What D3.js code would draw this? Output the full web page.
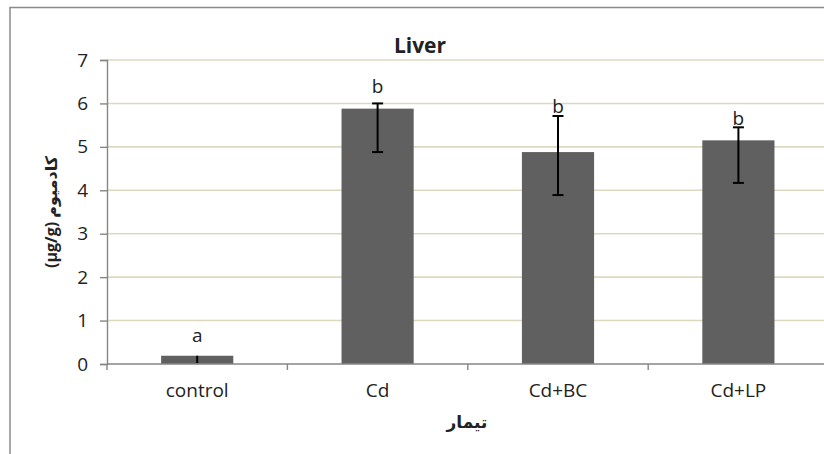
<!DOCTYPE html>
<html>
<head>
<meta charset="utf-8">
<script src="https://cdn.jsdelivr.net/npm/d3@7/dist/d3.min.js"></script>
<style>
  body { margin: 0; background: #fff; }
  text { font-family: "Open Sans", "DejaVu Sans", sans-serif; fill: #222; }
</style>
</head>
<body>
<svg id="chart" width="824" height="454"></svg>
<script>
// values
var categories = ["control", "Cd", "Cd+BC", "Cd+LP"]
var means = [0.19, 5.88, 4.88, 5.15]
var errUp = [0.0, 0.12, 0.83, 0.30]
var errDown = [0.17, 1.0, 0.99, 0.98]
var letters = ["a", "b", "b", "b"]
var letterAt = [0.50, 6.24, 5.78, 5.50]
var yTicks = [0, 1, 2, 3, 4, 5, 6, 7]

var svg = d3.select("#chart")

// outer chart frame (runs off the right and bottom edges)
svg.append("rect")
  .attr("x", 10).attr("y", 7.5)
  .attr("width", 900).attr("height", 600)
  .attr("fill", "none")
  .attr("stroke", "#8a8a8a")
  .attr("stroke-width", 1.5)

var left = 107, plotTop = 60, bottom = 364, step = 180.4

var x = d3.scaleBand()
  .domain(categories)
  .range([left, left + step * categories.length])
  .paddingInner(0.6)
  .paddingOuter(0.3)

var y = d3.scaleLinear().domain([0, 7]).range([bottom, plotTop])

// gridlines
svg.append("g")
  .selectAll("line")
  .data(yTicks.filter(function(d) { return d > 0 }))
  .enter().append("line")
    .attr("x1", left).attr("x2", 824)
    .attr("y1", function(d) { return y(d) })
    .attr("y2", function(d) { return y(d) })
    .attr("stroke", "#ddd8c0")
    .attr("stroke-width", 1.6)

// bars
var rows = categories.map(function(c, i) {
  return { cat: c, v: means[i], up: errUp[i], down: errDown[i], letter: letters[i], at: letterAt[i] }
})

svg.append("g")
  .selectAll("rect")
  .data(rows)
  .enter().append("rect")
    .attr("x", function(d) { return x(d.cat) })
    .attr("width", x.bandwidth())
    .attr("y", function(d) { return y(d.v) })
    .attr("height", function(d) { return y(0) - y(d.v) })
    .attr("fill", "#606060")

// error bars
var eb = svg.append("g").attr("stroke", "#000").attr("stroke-width", 2)
rows.forEach(function(d) {
  var cx = x(d.cat) + x.bandwidth() / 2
  eb.append("line")
    .attr("x1", cx).attr("x2", cx)
    .attr("y1", y(d.v + d.up)).attr("y2", y(d.v - d.down))
  // caps only on the bars that show them
  if (d.up > 0.05) {
    eb.append("line").attr("x1", cx - 5.5).attr("x2", cx + 5.5)
      .attr("y1", y(d.v + d.up)).attr("y2", y(d.v + d.up))
    eb.append("line").attr("x1", cx - 5.5).attr("x2", cx + 5.5)
      .attr("y1", y(d.v - d.down)).attr("y2", y(d.v - d.down))
  }
})

// significance letters
svg.append("g")
  .selectAll("text")
  .data(rows)
  .enter().append("text")
    .attr("x", function(d) { return x(d.cat) + x.bandwidth() / 2 })
    .attr("y", function(d) { return y(d.at) })
    .attr("text-anchor", "middle")
    .style("font-size", "19px")
    .text(function(d) { return d.letter })

// y axis
var yAxis = svg.append("g")
  .attr("transform", "translate(" + left + ",0)")
  .call(d3.axisLeft(y).tickValues(yTicks).tickFormat(d3.format("d")).tickSize(7).tickPadding(12))
yAxis.selectAll("text").style("font-size", "19px").attr("fill", "#222")
yAxis.selectAll("line, path").attr("stroke", "#868686").attr("stroke-width", 1.4)

// x axis, ticks between the categories
var xAxis = svg.append("g")
  .attr("transform", "translate(0," + bottom + ")")
xAxis.append("line")
  .attr("x1", left).attr("x2", 824)
  .attr("stroke", "#868686").attr("stroke-width", 1.4)
xAxis.selectAll(".sep")
  .data(categories)
  .enter().append("line")
    .attr("class", "sep")
    .attr("x1", function(d) { return x(d) - x.step() * x.paddingInner() / 2 })
    .attr("x2", function(d) { return x(d) - x.step() * x.paddingInner() / 2 })
    .attr("y1", 0).attr("y2", 6)
    .attr("stroke", "#868686").attr("stroke-width", 1.4)
xAxis.selectAll(".lbl")
  .data(categories)
  .enter().append("text")
    .attr("class", "lbl")
    .attr("x", function(d) { return x(d) + x.bandwidth() / 2 })
    .attr("y", 33)
    .attr("text-anchor", "middle")
    .style("font-size", "19px")
    .text(function(d) { return d })

// titles
svg.append("text")
  .attr("x", 420).attr("y", 53)
  .attr("text-anchor", "middle")
  .style("font-size", "21px").style("font-weight", "bold")
  .text("Liver")

svg.append("text")
  .attr("x", 467).attr("y", 428)
  .attr("text-anchor", "middle")
  .style("font-size", "17px").style("font-weight", "bold")
  .text("تیمار")

svg.append("text")
  .attr("transform", "translate(57," + (plotTop + bottom) / 2 + ") rotate(-90)")
  .attr("text-anchor", "middle")
  .attr("direction", "ltr")
  .style("font-size", "16px").style("font-weight", "bold")
  .text("(µg/g) کادمیوم")
</script>
</body>
</html>
